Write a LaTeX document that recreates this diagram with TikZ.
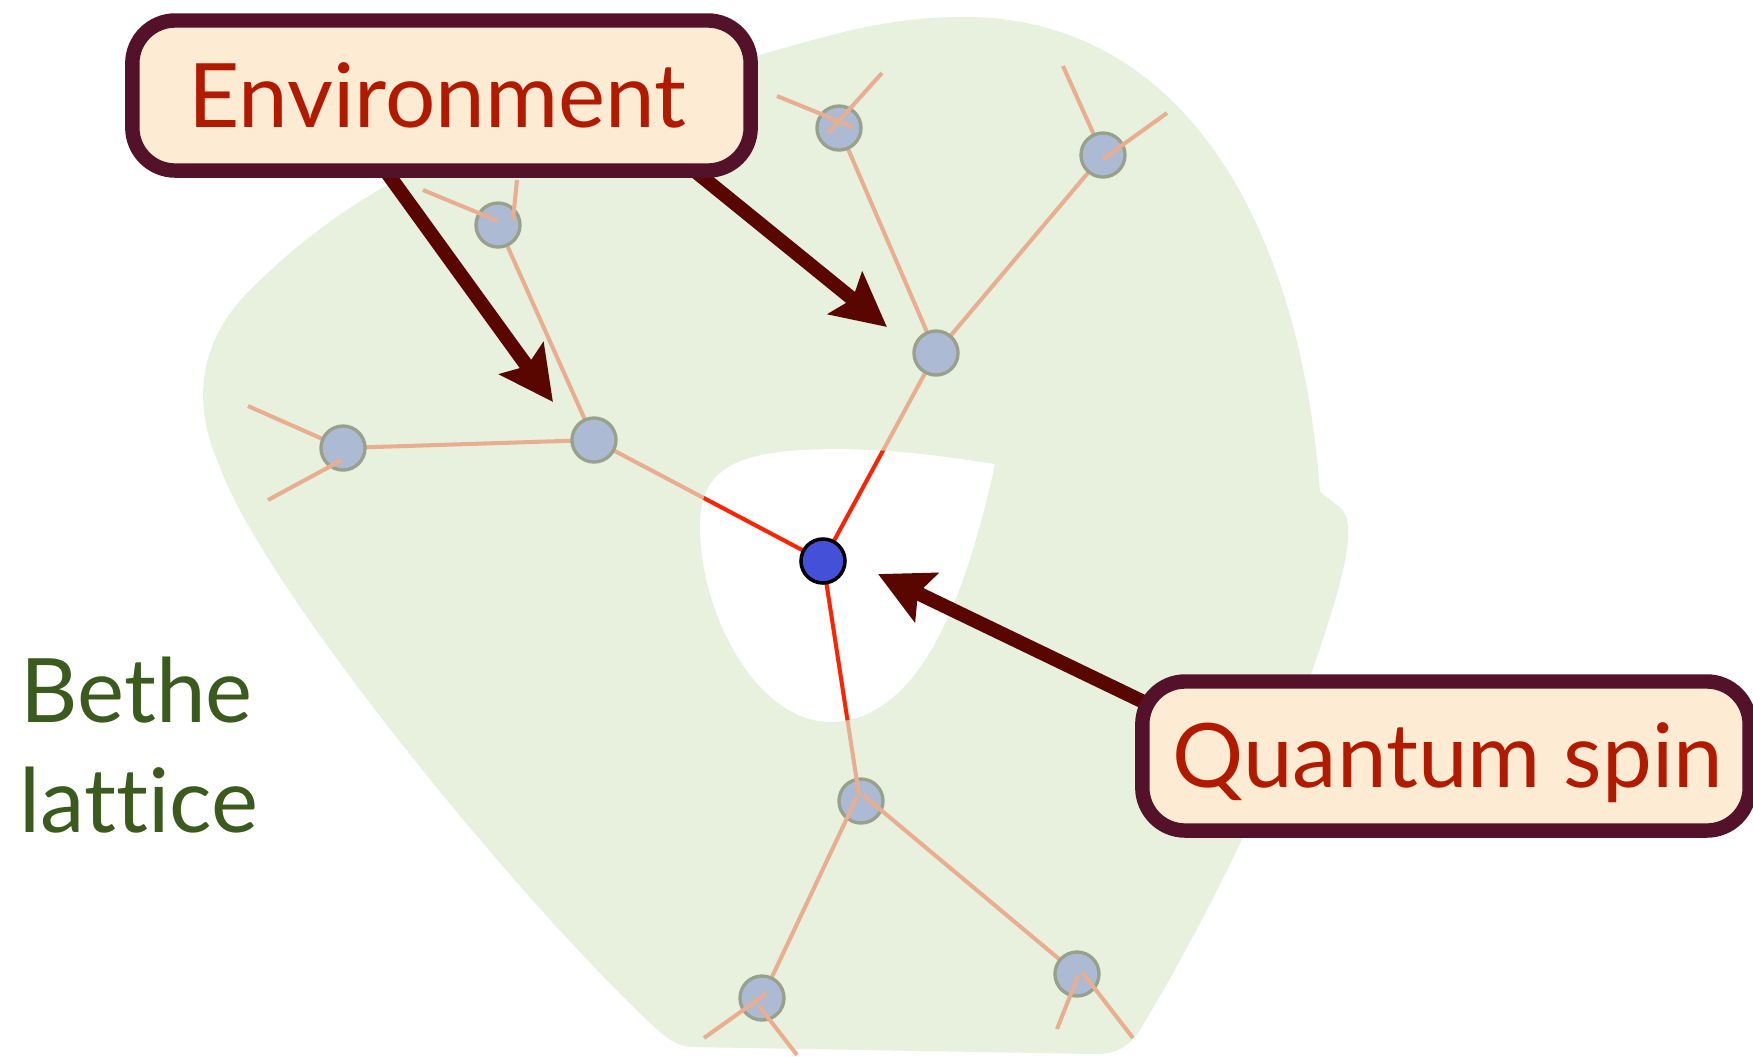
\documentclass[tikz,border=0pt]{standalone}
\usepackage{fontspec}
\setmainfont{Lato}[Ligatures=NoCommon]
\usetikzlibrary{arrows.meta}
\pgfdeclarelayer{blob}\pgfdeclarelayer{edges}\pgfdeclarelayer{over}\pgfdeclarelayer{top}
\pgfsetlayers{blob,edges,main,over,top}
\definecolor{blobgreen}{HTML}{E8F0DE}
\definecolor{boxfill}{HTML}{FDEBD3}
\definecolor{boxborder}{HTML}{54122A}
\definecolor{arrowcol}{HTML}{5A0600}
\definecolor{textred}{HTML}{B21A00}
\definecolor{textgreen}{HTML}{3B5A1D}
\definecolor{salmon}{HTML}{E9AE90}
\definecolor{bondred}{HTML}{FF2200}
\definecolor{nodefill}{HTML}{ADBAD3}
\definecolor{nodeborder}{HTML}{97A18B}
\definecolor{spinblue}{HTML}{4450D8}
\begin{document}
\begin{tikzpicture}[x=0.01cm,y=-0.01cm,
  spin/.style={circle, fill=nodefill, draw=nodeborder, line width=0.95pt, minimum size=0.44cm, inner sep=0pt},
  qspin/.style={circle, fill=spinblue, draw=black, line width=1pt, minimum size=0.44cm, inner sep=0pt},
  bond/.style={draw=salmon, line width=1.15pt},
  redbond/.style={draw=bondred, line width=1.1pt},
  bigarrow/.style={draw=arrowcol, line width=4pt, -{Stealth[length=15.2pt,width=15.2pt,inset=2.6pt]}},
  labelbox/.style={draw=boxborder, fill=boxfill, line width=4.1pt, rounded corners=12.2pt, inner sep=0pt},
  labeltext/.style={anchor=base west, inner sep=0pt, text=textred, font=\fontsize{25.3}{30}\selectfont},
  greentext/.style={anchor=base west, inner sep=0pt, text=textgreen, font=\fontsize{25.3}{30}\selectfont}]
\useasboundingbox (0,0) rectangle (1753,1056);

% background shapes
\begin{pgfonlayer}{blob}
\fill[blobgreen] (400,178) -- (450,150) -- (600,100) -- (750,58)
  .. controls (850,28) and (900,17) .. (961,17)
  .. controls (1180,15) and (1300,220) .. (1320,492)
  -- (1341,508) .. controls (1352,520) and (1350,545) .. (1338,590)
  .. controls (1290,760) and (1200,930) .. (1140,1030)
  .. controls (1128,1048) and (1115,1054) .. (1095,1054)
  -- (690,1047) .. controls (672,1045) and (660,1032) .. (648,1021)
  .. controls (500,880) and (260,580) .. (220,467)
  .. controls (190,400) and (200,340) .. (250,290)
  .. controls (290,250) and (340,210) .. (400,178) -- cycle;
\fill[white] (995,464) .. controls (965,600) and (920,718) .. (833,722)
  .. controls (760,724) and (702,620) .. (700,530)
  .. controls (698,470) and (735,455) .. (800,450)
  .. controls (880,446) and (940,456) .. (995,464) -- cycle;
\node[spin] (G) at (861,801) {};
\end{pgfonlayer}

% spins
\node[qspin] (ctr) at (823,561) {};
\node[spin] (A) at (594,440) {};
\node[spin] (B) at (343,448) {};
\node[spin] (C) at (498,225) {};
\node[spin] (D) at (839,128) {};
\node[spin] (E) at (936,353) {};
\node[spin] (F) at (1103,155) {};
\node[spin] (H) at (762,998) {};
\node[spin] (I) at (1077,974) {};

% stub ends
\coordinate (b1) at (248,406);
\coordinate (b2) at (268,500);
\coordinate (b2e) at (342,460);
\coordinate (c1) at (423,190);
\coordinate (c1e) at (498,221);
\coordinate (c2) at (517,180);
\coordinate (c2e) at (513,220);
\coordinate (d1) at (777,96);
\coordinate (d1e) at (853,127);
\coordinate (d2) at (882,73);
\coordinate (d2e) at (828,133);
\coordinate (f1) at (1063,66);
\coordinate (f2) at (1167,113);
\coordinate (f2e) at (1103,159);
\coordinate (gin) at (859,795);
\coordinate (gh) at (857,797);
\coordinate (gi) at (863,795);
\coordinate (h1) at (704,1038);
\coordinate (h1e) at (767,993);
\coordinate (h2) at (797,1055);
\coordinate (h2e) at (759,1006);
\coordinate (i1) at (1057,1029);
\coordinate (i1e) at (1078,976);
\coordinate (i2) at (1133,1038);
\coordinate (i2e) at (1082,972);

% bonds under the spins
\begin{pgfonlayer}{edges}
\draw[bond] (A.center) -- (B.center);
\draw[bond] (A.center) -- (C.center);
\draw[bond] (E.center) -- (D.center);
\draw[bond] (E.center) -- (F.center);
\draw[bond] (ctr.center) -- (A.center);
\draw[bond] (ctr.center) -- (E.center);
\draw[bond] (ctr.center) -- (gin);
\draw[bond] (gh) -- (H.center);
\draw[bond] (gi) -- (I.center);
\draw[bond] (b1) -- (B.center);
\draw[bond] (f1) -- (F.center);
\begin{scope}
\clip (995,464) .. controls (965,600) and (920,718) .. (833,722)
  .. controls (760,724) and (702,620) .. (700,530)
  .. controls (698,470) and (735,455) .. (800,450)
  .. controls (880,446) and (940,456) .. (995,464) -- cycle;
\draw[redbond] (ctr.center) -- (A.center);
\draw[redbond] (ctr.center) -- (E.center);
\draw[redbond] (ctr.center) -- (gin);
\end{scope}
\end{pgfonlayer}

% stubs over the spins
\begin{pgfonlayer}{over}
\draw[bond] (b2) -- (b2e);
\draw[bond] (c1) -- (c1e);
\draw[bond] (c2) -- (c2e);
\draw[bond] (d1) -- (d1e);
\draw[bond] (d2) -- (d2e);
\draw[bond] (f2) -- (f2e);
\draw[bond] (h1) -- (h1e);
\draw[bond] (h2) -- (h2e);
\draw[bond] (i1) -- (i1e);
\draw[bond] (i2) -- (i2e);
\end{pgfonlayer}

% labels and arrows
\begin{pgfonlayer}{top}
\coordinate (a1s) at (380,163);
\coordinate (a1t) at (553,402);
\coordinate (a2s) at (690,167);
\coordinate (a2t) at (887,327);
\coordinate (a3s) at (1150,705);
\coordinate (a3t) at (878,574);
\draw[bigarrow] (a1s) -- (a1t);
\draw[bigarrow] (a2s) -- (a2t);
\draw[bigarrow] (a3s) -- (a3t);
\node[labelbox, minimum width=6.18cm, minimum height=1.5cm] (envbox) at (441.5,95.5) {};
\node[labelbox, minimum width=6.07cm, minimum height=1.49cm] (qbox) at (1446,756) {};
\node[labeltext] (envtext) at (188,127) {Environment};
\node[labeltext] (qtext) at (1172,787) {Quantum spin};
\node[greentext] (bethe) at (20,722) {Bethe};
\node[greentext] (lattice) at (19,832) {lattice};
\end{pgfonlayer}
\end{tikzpicture}
\end{document}
